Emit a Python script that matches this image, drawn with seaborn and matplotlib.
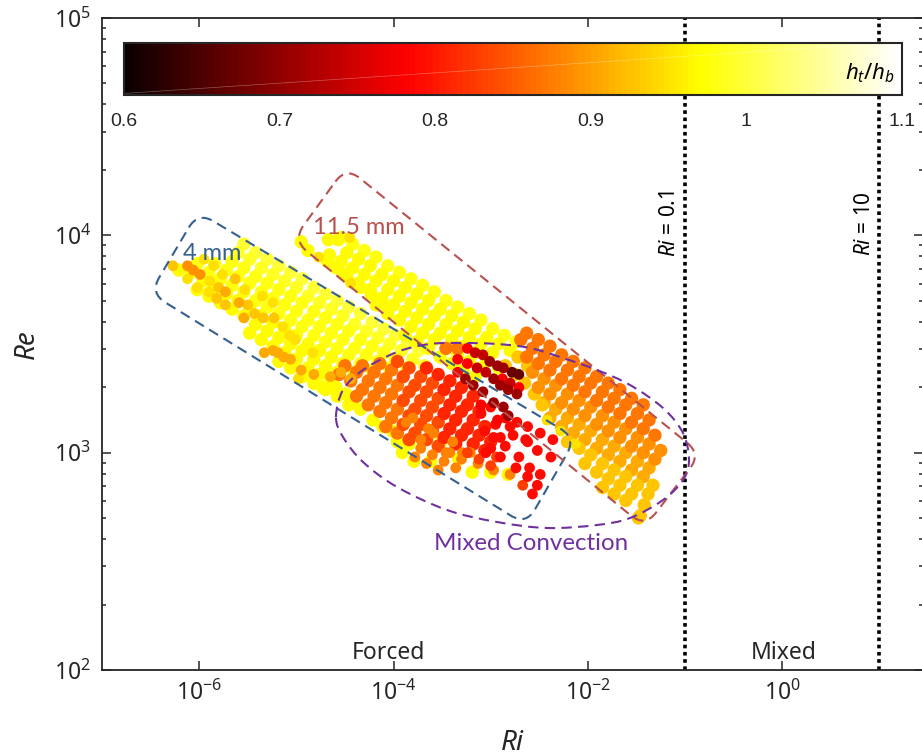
import numpy as np
import pandas as pd
import seaborn as sns
import matplotlib.pyplot as plt
from matplotlib.cm import ScalarMappable
from matplotlib.colors import Normalize
from matplotlib.patches import PathPatch
from matplotlib.path import Path
from matplotlib.ticker import LogLocator, NullFormatter, NullLocator
from matplotlib.transforms import Affine2D

# all points are (log10 Ri, log10 Re), grouped by ht/hb read from the colours
# 4 mm band, yellow part
band4_100 = [(-5.54,3.96),(-5.42,3.92),(-5.30,3.89),(-5.18,3.86),(-5.06,3.83),(-4.94,3.80),(-4.82,3.76),(-4.70,3.73),(-4.58,3.70),(-4.46,3.67),(-4.34,3.64),(-4.22,3.60),(-4.10,3.57),(-3.98,3.54),(-3.86,3.50),(-3.74,3.47)]
band4_099 = [(-5.60,3.92),(-5.48,3.89),(-5.36,3.85),(-5.24,3.82),(-5.12,3.79),(-5.00,3.76),(-4.88,3.72),(-4.76,3.69),(-4.64,3.66),(-4.52,3.63),(-4.40,3.59),(-4.28,3.56),(-4.16,3.53),(-4.04,3.50),(-3.92,3.47),(-3.80,3.43),(-3.68,3.40)]
band4_098 = [(-5.66,3.88),(-5.54,3.85),(-5.42,3.81),(-5.30,3.78),(-5.18,3.75),(-5.06,3.72),(-4.94,3.69),(-4.82,3.65),(-4.70,3.62),(-4.58,3.59),(-4.46,3.56),(-4.34,3.52),(-4.22,3.49),(-4.10,3.46),(-3.98,3.43),(-3.86,3.39),
    (-5.84,3.87),(-5.72,3.84),(-5.60,3.81),(-5.48,3.78),(-5.36,3.74),(-5.24,3.71),(-5.12,3.68),(-5.00,3.65),(-4.88,3.61),(-4.76,3.58),(-4.64,3.55),(-4.52,3.52),(-4.40,3.48),(-4.28,3.45),(-4.16,3.42),(-4.04,3.39),
    (-6.02,3.87),(-5.90,3.83),(-5.78,3.80),(-5.66,3.77),(-5.54,3.74),(-5.42,3.70),(-5.30,3.67),(-5.18,3.64),(-5.06,3.61),(-4.94,3.58),(-4.82,3.54),(-4.70,3.51),(-4.58,3.48),(-4.46,3.45),(-4.34,3.41),(-4.22,3.38)]
band4_097 = [(-6.08,3.83),(-5.96,3.79),(-5.84,3.76),(-5.72,3.73),(-5.60,3.70),(-5.48,3.67),(-5.36,3.63),(-5.24,3.60),(-5.12,3.57),(-5.00,3.54),(-4.88,3.50),(-4.76,3.47),(-4.64,3.44),(-4.52,3.41),(-4.40,3.37),
    (-6.02,3.75),(-5.90,3.72),(-5.78,3.69),(-5.66,3.66),(-5.54,3.63),(-5.42,3.59),(-5.30,3.56),(-5.18,3.53),(-5.06,3.50),(-4.94,3.47),(-4.82,3.43),(-4.70,3.40),(-4.58,3.37),
    (-5.48,3.55),(-5.36,3.52),(-5.24,3.49),(-5.12,3.46),(-5.00,3.43),(-4.88,3.39),(-4.76,3.36),(-4.64,3.33),
    (-5.18,3.42),(-5.06,3.39),(-4.94,3.35),(-4.82,3.32),(-4.70,3.29),(-4.58,3.26),(-4.46,3.22),
    (-6.21,3.84),(-4.82,3.32),(-4.73,3.30),
    (-4.34,3.20),(-4.21,3.15),(-4.11,3.12),(-4.01,3.10),(-3.96,3.05),(-3.84,3.04),(-3.91,3.00),(-3.79,2.96),(-3.62,2.96),(-3.51,3.05),(-3.33,2.97),(-3.19,2.91),(-3.00,2.91),(-2.82,2.90),(-4.49,3.27),(-4.59,3.30),(-4.42,3.24)]
band4_095 = [(-6.12,3.80),(-6.02,3.76),(-5.95,3.89),(-5.85,3.86),(-5.89,3.79),(-5.90,3.74),(-5.76,3.82),(-5.35,3.72),(-5.53,3.75),(-5.24,3.69),(-5.14,3.58),(-5.07,3.54),(-5.01,3.52),(-4.83,3.46),(-4.98,3.34)]
band4_093 = [(-6.27,3.86),(-5.80,3.76),(-5.73,3.68),(-5.82,3.71),(-5.50,3.68),(-5.63,3.80),(-5.43,3.64),(-5.34,3.62),(-5.23,3.62)]
band4_091 = [(-5.73,3.74),(-5.59,3.69),(-5.54,3.62),(-5.33,3.46),(-5.24,3.47),(-5.19,3.46),(-5.13,3.44),(-5.06,3.43),(-4.95,3.38),(-4.82,3.36),(-4.65,3.35),(-4.54,3.37),(-4.44,3.34)]
band4_089 = [(-6.12,3.86),(-6.06,3.84),(-5.99,3.82)]

# 11.5 mm band, yellow part
band11_098 = [(-4.54,3.99),(-4.42,3.96),(-4.30,3.93),(-4.18,3.90),(-4.06,3.86),(-3.94,3.83),(-3.82,3.80),(-3.70,3.77),(-3.58,3.74),(-3.46,3.70),(-3.34,3.67),(-3.22,3.64),(-3.10,3.61),(-2.98,3.57),(-2.86,3.54),(-2.74,3.51)]
band11_097 = [(-4.48,3.92),(-4.36,3.89),(-4.24,3.86),(-4.12,3.82),(-4.00,3.79),(-3.88,3.76),(-3.76,3.73),(-3.64,3.70),(-3.52,3.66),(-3.40,3.63),(-3.28,3.60),(-3.16,3.57),(-3.04,3.53),(-2.92,3.50),(-2.80,3.47),
    (-4.66,3.91),(-4.54,3.88),(-4.42,3.85),(-4.30,3.82),(-4.18,3.79),(-4.06,3.75),(-3.94,3.72),(-3.82,3.69),(-3.70,3.66),(-3.58,3.63),(-3.46,3.59),(-3.34,3.56),(-3.22,3.53),(-3.10,3.50),(-2.98,3.46),
    (-4.48,3.81),(-4.36,3.78),(-4.24,3.75),(-4.12,3.71),(-4.00,3.68),(-3.88,3.65),(-3.76,3.62),(-3.64,3.59),(-3.52,3.55),(-3.40,3.52),(-3.28,3.49),(-3.16,3.46),(-3.04,3.42),(-2.92,3.39),
    (-4.18,3.68),(-4.06,3.64),(-3.94,3.61),(-3.82,3.58),(-3.70,3.55),(-3.58,3.52),(-3.46,3.48),(-3.34,3.45),(-3.22,3.42),(-3.10,3.39),
    (-3.88,3.54),(-3.76,3.51),(-3.64,3.48),(-3.52,3.44),(-3.40,3.41),(-3.28,3.38),(-3.16,3.35),
    (-4.95,3.97),(-4.88,3.93),(-4.68,3.88),(-4.59,3.85),(-4.51,3.82),(-4.34,3.76),(-4.23,3.73),(-4.15,3.70),(-4.06,3.67),(-4.67,3.98),(-4.57,3.98)]
band11_095 = [(-4.77,3.90),(-4.44,3.78),(-4.45,3.99),(-2.42,3.15),(-2.28,3.10),(-2.13,3.04)]

# 11.5 mm band, orange part
band11_087 = [(-2.63,3.55),(-2.51,3.52),(-2.39,3.49),(-2.27,3.45),(-2.15,3.42),(-2.03,3.39),(-1.91,3.35),(-1.79,3.32),(-1.67,3.29),(-1.55,3.25),(-1.43,3.22),
    (-2.69,3.52),(-2.57,3.48),(-2.45,3.45),(-2.33,3.42),(-2.21,3.38),(-2.09,3.35),(-1.97,3.32),(-1.85,3.28),(-1.73,3.25),(-1.61,3.22),(-1.49,3.18),(-1.37,3.15),
    (-2.63,3.44),(-2.51,3.41),(-2.39,3.38),(-2.27,3.34),(-2.15,3.31),(-2.03,3.28),(-1.91,3.24),(-1.79,3.21),(-1.67,3.18),(-1.55,3.14),(-1.43,3.11),(-1.31,3.08)]
band11_089 = [(-2.57,3.37),(-2.45,3.34),(-2.33,3.31),(-2.21,3.27),(-2.09,3.24),(-1.97,3.21),(-1.85,3.17),(-1.73,3.14),(-1.61,3.11),(-1.49,3.07),(-1.37,3.04),(-1.25,3.01),
    (-2.51,3.30),(-2.39,3.27),(-2.27,3.23),(-2.15,3.20),(-2.03,3.17),(-1.91,3.13),(-1.79,3.10),(-1.67,3.07),(-1.55,3.03),(-1.43,3.00),(-1.31,2.97)]
band11_091 = [(-2.45,3.23),(-2.33,3.20),(-2.21,3.16),(-2.09,3.13),(-1.97,3.10),(-1.85,3.06),(-1.73,3.03),(-1.61,3.00),(-1.49,2.96),(-1.37,2.93),
    (-2.39,3.16),(-2.27,3.12),(-2.15,3.09),(-2.03,3.06),(-1.91,3.02),(-1.79,2.99),(-1.67,2.96),(-1.55,2.92),(-1.43,2.89)]
band11_093 = [(-2.21,3.05),(-2.09,3.02),(-1.97,2.99),(-1.85,2.95),(-1.73,2.92),(-1.61,2.89),(-1.49,2.85),
    (-2.03,2.95),(-1.91,2.91),(-1.79,2.88),(-1.67,2.85),(-1.55,2.81),
    (-1.85,2.84),(-1.73,2.81),(-1.61,2.78),(-1.33,2.85),(-1.38,2.81),(-1.42,2.76),(-1.46,2.71),(-1.48,2.70),
    (-2.85,3.40),(-2.75,3.36),(-2.65,3.32),(-2.72,3.44),(-2.62,3.40),(-2.55,3.27),(-2.47,3.22)]

# mixed convection cluster
mixed_087 = [(-4.14,3.41),(-4.02,3.38),(-4.32,3.40),(-4.20,3.37),(-4.08,3.34),(-3.96,3.31),(-4.50,3.40),(-4.38,3.37),(-4.26,3.33),(-4.14,3.30),(-4.02,3.27),
    (-4.56,3.36),(-4.44,3.33),(-4.32,3.29),(-4.20,3.26),(-4.08,3.23),(-3.96,3.20),(-4.38,3.26),(-4.26,3.22),(-4.14,3.19),(-4.02,3.16),(-4.08,3.12),(-3.96,3.09),
    (-3.46,3.48),(-3.34,3.48)]
mixed_084 = [(-3.96,3.42),(-3.84,3.39),(-3.72,3.35),(-3.60,3.32),(-3.90,3.35),(-3.78,3.31),(-3.66,3.28),(-3.54,3.25),(-3.84,3.28),(-3.72,3.24),(-3.60,3.21),(-3.90,3.24),(-3.78,3.20),(-3.66,3.17),(-3.54,3.14),
    (-3.84,3.17),(-3.72,3.13),(-3.60,3.10),(-3.90,3.13),(-3.78,3.09),(-3.66,3.06),(-3.54,3.03),(-3.84,3.06)]
mixed_081 = [(-3.66,3.39),(-3.54,3.36),(-3.42,3.33),(-3.30,3.30),(-3.18,3.26),(-3.48,3.29),(-3.36,3.26),(-3.24,3.22),(-3.12,3.19),(-3.42,3.22),(-3.30,3.19),(-3.18,3.15),(-3.06,3.12),
    (-3.48,3.18),(-3.36,3.15),(-3.24,3.11),(-3.12,3.08),(-3.00,3.05),(-3.42,3.11),(-3.30,3.08),(-3.18,3.04),(-3.06,3.01),(-3.48,3.07),(-3.36,3.04)]
# lower streaks of the cluster, separate dots
streak_088 = [(-3.87,3.14),(-3.80,3.16),(-3.72,3.06),(-3.64,3.11),(-3.59,3.09),(-3.46,3.00),(-3.39,3.05),(-3.29,3.00),(-3.21,3.00),(-3.13,2.95),(-2.97,2.92),(-2.80,2.90),
    (-3.72,3.02),(-3.60,2.99),(-3.78,2.98),(-3.66,2.95),(-3.54,2.92),(-3.42,3.00),(-3.30,2.97),(-3.48,2.96),(-3.36,2.93)]
streak_083 = [(-2.67,2.85),(-3.24,3.00),(-3.12,2.97),(-3.00,2.94),(-2.94,2.98)]
mixed_079 = [(-3.05,3.00),(-2.97,3.07),(-3.00,3.02),(-2.90,2.98),(-2.85,3.03),(-2.74,2.93),(-2.71,2.98),(-2.62,3.05),(-2.60,2.93),(-2.62,2.89),(-2.49,2.90),(-2.52,2.85),(-2.57,2.81),
    (-2.38,2.98),(-2.52,3.01),(-2.36,3.06),(-2.49,3.09),(-2.62,3.12),(-2.73,3.14),(-2.77,3.08),(-2.64,3.06),
    (-3.06,3.10),(-2.95,3.13),(-2.85,3.16),(-2.90,3.07),(-2.80,3.12),(-3.10,3.18),(-3.00,3.21)]

# darkest points around the middle of the cluster
dark_078 = [(-3.24,3.48),(-3.34,3.43),(-3.24,3.41),(-2.88,3.34),(-2.71,3.30),(-3.34,3.37),(-2.93,3.15),(-3.10,3.22)]
dark_074 = [(-3.16,3.46),(-3.14,3.39),(-3.05,3.37),(-2.80,3.32),(-3.08,3.45)]
dark_071 = [(-3.01,3.42),(-2.93,3.40),(-2.87,3.39),(-2.97,3.34),(-3.26,3.34),(-3.18,3.31),(-3.08,3.28),(-2.97,3.23),(-2.87,3.21),(-2.82,3.17),(-2.90,3.31),(-2.82,3.29),(-2.73,3.27)]
dark_067 = [(-2.78,3.37),(-2.71,3.36)]

# the dense bands overlap in the reference, the rest are single dots
dense_groups = [(1.00, band4_100), (0.99, band4_099), (0.98, band4_098), (0.97, band4_097),
                (0.98, band11_098), (0.97, band11_097), (0.91, band11_091), (0.93, band11_093),
                (0.89, band11_089), (0.87, band11_087), (0.87, mixed_087), (0.84, mixed_084),
                (0.81, mixed_081)]
single_groups = [(0.95, band4_095), (0.93, band4_093), (0.91, band4_091), (0.89, band4_089),
                 (0.95, band11_095), (0.88, streak_088), (0.83, streak_083), (0.79, mixed_079),
                 (0.78, dark_078), (0.74, dark_074), (0.71, dark_071), (0.67, dark_067)]

x_ticks = [1e-6, 1e-4, 1e-2, 1e0]
y_ticks = [1e2, 1e3, 1e4, 1e5]
cbar_ticks = [0.6, 0.7, 0.8, 0.9, 1.0, 1.1]
cbar_labels = ['0.6', '0.7', '0.8', '0.9', '1', '1.1']

W, H = 922, 756
ink = '#262626'

sns.set_theme(style='ticks')
plt.rcParams['font.family'] = ['Noto Sans', 'DejaVu Sans']
plt.rcParams['mathtext.fontset'] = 'custom'
plt.rcParams['mathtext.rm'] = 'Noto Sans'
plt.rcParams['mathtext.it'] = 'Noto Sans:italic'


def to_frame(groups):
    rows = []
    for ratio, pts in groups:
        for lri, lre in pts:
            rows.append({'Ri': 10**lri, 'Re': 10**lre, 'ratio': ratio})
    return pd.DataFrame(rows)


fig = plt.figure(figsize=(W/100, H/100), dpi=100)
ax = fig.add_axes([102/W, 1-670/H, (923-102)/W, (670-18)/H])

sns.scatterplot(data=to_frame(dense_groups), x='Ri', y='Re', hue='ratio', palette='hot', hue_norm=(0.6, 1.1),
                s=92, linewidth=0, legend=False, ax=ax, zorder=3)
sns.scatterplot(data=to_frame(single_groups), x='Ri', y='Re', hue='ratio', palette='hot', hue_norm=(0.6, 1.1),
                s=60, linewidth=0, legend=False, ax=ax, zorder=3)

ax.set_xscale('log')
ax.set_yscale('log')
ax.set_xlim(1e-7, 10**1.449)
ax.set_ylim(1e2, 1e5)
ax.set_xticks(x_ticks)
ax.set_yticks(y_ticks)
ax.xaxis.set_minor_locator(NullLocator())
ax.yaxis.set_minor_locator(LogLocator(base=10, subs=np.arange(2, 10)))
ax.yaxis.set_minor_formatter(NullFormatter())
ax.tick_params(which='major', direction='in', length=6.5, width=1.1, top=True, right=True, color=ink, labelcolor=ink, labelsize=16.5, pad=8)
ax.tick_params(which='minor', direction='in', length=3, width=1.1, top=False, right=True, color=ink)
for s in ax.spines.values():
    s.set_linewidth(1.3)
    s.set_color(ink)
ax.set_xlabel('Ri', style='italic', fontsize=20, color=ink)
ax.set_ylabel('Re', style='italic', fontsize=20, color=ink)
ax.xaxis.set_label_coords(0.5, -0.09)
ax.yaxis.set_label_coords(-0.075, 0.5)

ax.axvline(0.1, color='black', lw=2.6, ls=(0, (1, 1)), zorder=2)
ax.axvline(10, color='black', lw=2.6, ls=(0, (1, 1)), zorder=2)

# annotations are placed in image pixels, y going down
px = Affine2D().scale(1, -1).translate(0, H)


def rounded_box(corners, r):
    verts, codes = [], []
    n = len(corners)
    for i in range(n):
        p = np.array(corners[i], float)
        a = np.array(corners[i-1], float)
        b = np.array(corners[(i+1) % n], float)
        p1 = p + (a-p)/np.linalg.norm(a-p)*r
        p2 = p + (b-p)/np.linalg.norm(b-p)*r
        verts += [p1, p, p2]
        codes += [Path.MOVETO if i == 0 else Path.LINETO, Path.CURVE3, Path.CURVE3]
    verts.append(verts[0])
    codes.append(Path.CLOSEPOLY)
    return Path(verts, codes)


def smooth_loop(pts):
    pts = np.array(pts, float)
    n = len(pts)
    verts = [pts[0]]
    codes = [Path.MOVETO]
    for i in range(n):
        p0, p1, p2, p3 = pts[i-1], pts[i], pts[(i+1) % n], pts[(i+2) % n]
        verts += [p1 + (p2-p0)/6, p2 - (p3-p1)/6, p2]
        codes += [Path.CURVE4, Path.CURVE4, Path.CURVE4]
    return Path(verts, codes)


blue = '#35608F'
red = '#B9504D'
purple = '#7030A0'
dash = (0, (5, 3))
mixed_outline = [(336,417),(343,390),(363,370),(397,352),(430,344),(463,343),(497,344),(530,348),(563,358),(597,370),(630,385),(663,408),
                 (683,433),(689,460),(683,480),(663,500),(630,518),(597,525),(547,528),(497,522),(447,510),(397,487),(363,462),(343,437)]
fig.add_artist(PathPatch(rounded_box([(198, 212), (576, 438), (526, 525), (150, 293)], 18), fill=False,
                         ec=blue, lw=1.5, ls=dash, transform=px, zorder=5))
fig.add_artist(PathPatch(rounded_box([(346, 167), (701, 454), (645, 527), (293, 240)], 18), fill=False,
                         ec=red, lw=1.5, ls=dash, transform=px, zorder=5))
fig.add_artist(PathPatch(smooth_loop(mixed_outline), fill=False, ec=purple, lw=1.5, ls=dash, transform=px, zorder=5))


def label(x, y, txt, **kw):
    fig.text(x/W, 1-y/H, txt, ha='center', va='center', zorder=6, **kw)


label(359, 227, '11.5 mm', color=red, fontsize=17, family='Lato')
label(212, 253, '4 mm', color=blue, fontsize=17, family='Lato')
label(531, 543, 'Mixed Convection', color=purple, fontsize=17.4, family='Lato')
label(388, 653, 'Forced', color=ink, fontsize=16.5)
label(784, 653, 'Mixed', color=ink, fontsize=16.5)
label(669, 224, r'$\mathit{Ri}$ = 0.1', color='black', fontsize=15, rotation=90)
label(864, 224, r'$\mathit{Ri}$ = 10', color='black', fontsize=15, rotation=90)

# colour bar sitting on top of the plot
cax = fig.add_axes([124/W, 1-95/H, (902-124)/W, (95-43)/H], zorder=4)
cb = fig.colorbar(ScalarMappable(norm=Normalize(0.6, 1.1), cmap=plt.get_cmap('hot', 128)), cax=cax, orientation='horizontal')
cb.set_ticks(cbar_ticks)
cb.set_ticklabels(cbar_labels)
cb.solids.set_edgecolor('face')
cax.xaxis.set_minor_locator(NullLocator())
cax.tick_params(axis='x', direction='in', length=6, width=1.1, color=ink, labelcolor=ink, labelsize=14, pad=13)
for label_obj in cax.get_xticklabels():
    label_obj.set_family('Liberation Sans')
cb.outline.set_linewidth(1.5)
cb.outline.set_edgecolor(ink)
cax.plot([0, 0.95], [0.03, 0.97], transform=cax.transAxes, color='white', lw=0.5, alpha=0.35)
cax.text(0.959, 0.42, r'$h_t/h_b$', transform=cax.transAxes, ha='center', va='center', fontsize=16, color='black')

fig.savefig('out.png', dpi=100)
